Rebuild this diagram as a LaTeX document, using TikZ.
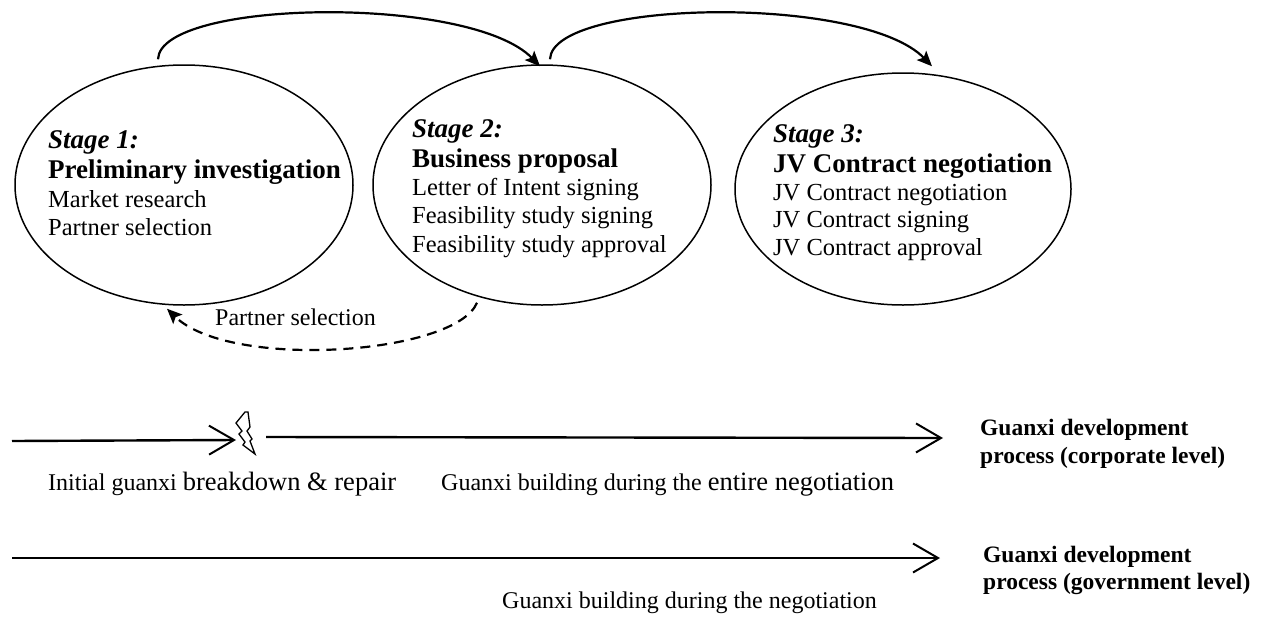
\documentclass[tikz,border=0pt]{standalone}
\usepackage{fontspec}
\setmainfont{Liberation Serif}
\usetikzlibrary{shapes.geometric,arrows.meta,calc}

\tikzset{
  stage/.style={ellipse, draw, line width=1.5pt, inner sep=0pt},
  stagehead/.style={anchor=base west, inner sep=0pt, font=\fontsize{27}{30}\selectfont\bfseries},
  stagebody/.style={anchor=base west, inner sep=0pt, font=\fontsize{24.5}{28}\selectfont},
  plain/.style={anchor=base west, inner sep=0pt, font=\fontsize{24}{28}\selectfont},
  level/.style={anchor=base west, inner sep=0pt, font=\fontsize{23.5}{28}\selectfont\bfseries},
  flow/.style={line width=2.2pt, -{Stealth[length=15pt,width=13pt,inset=3pt]}},
  back/.style={line width=2.2pt, dash pattern=on 10pt off 7pt, -{Stealth[length=15pt,width=13pt,inset=3pt]}},
  track/.style={line width=2.4pt, -{Straight Barb[length=25pt,width=29pt,line width=2pt]}},
}

\begin{document}
\begin{tikzpicture}[x=1pt, y=-1pt]
\useasboundingbox (0,0) rectangle (1269,616);

% the three negotiation stages
\node[stage, minimum width=338pt, minimum height=240pt] (s1) at (184,185) {};
\node[stage, minimum width=338pt, minimum height=240pt] (s2) at (542,185) {};
\node[stage, minimum width=336pt, minimum height=232pt] (s3) at (903,189) {};

% stage 1 text
\node[stagehead] (s1a) at (48,148) {\itshape Stage 1:};
\node[stagehead] (s1b) at (48,178) {Preliminary investigation};
\node[stagebody] (s1c) at (48,207) {Market research};
\node[stagebody] (s1d) at (48,235) {Partner selection};

% stage 2 text
\node[stagehead] (s2a) at (412,137) {\itshape Stage 2:};
\node[stagehead] (s2b) at (412,167) {Business proposal};
\node[stagebody] (s2c) at (412,195) {Letter of Intent signing};
\node[stagebody] (s2d) at (412,223) {Feasibility study signing};
\node[stagebody] (s2e) at (412,252) {Feasibility study approval};

% stage 3 text
\node[stagehead] (s3a) at (773,142) {\itshape Stage 3:};
\node[stagehead] (s3b) at (773,172) {JV Contract negotiation};
\node[stagebody] (s3c) at (773,200) {JV Contract negotiation};
\node[stagebody] (s3d) at (773,227) {JV Contract signing};
\node[stagebody] (s3e) at (773,255) {JV Contract approval};

% forward links between stages
\draw[flow] ($(s1.north)+(-26,-5)$) .. controls ($(s1.north)+(-24,-65)$) and ($(s2.north)+(-72,-70)$) .. ($(s2.north)+(-2,2)$);
\draw[flow] ($(s2.north)+(8,-5)$) .. controls ($(s2.north)+(10,-65)$) and ($(s3.north)+(-41,-78)$) .. ($(s3.north)+(29,-6)$);

% loop back for partner selection
\draw[back] ($(s2.south)+(-65,-3)$) .. controls (455,355) and (230,370) .. ($(s1.south)+(-17,3)$);
\node[plain] (ps) at (215,325) {Partner selection};

% corporate level guanxi track
\coordinate (c0) at (12,441);
\coordinate (bolt) at (245,432);
\draw[track] (c0) -- ($(bolt)+(-9,8)$);
\draw[line width=1.3pt, line join=miter]
  ($(bolt)+(0,-20)$) -- ($(bolt)+(-9,-9)$) -- ($(bolt)+(-3,-1)$) -- ($(bolt)+(-6,2)$)
  -- ($(bolt)+(0,10)$) -- ($(bolt)+(-2,13)$) -- ($(bolt)+(10,22)$) -- ($(bolt)+(5,9)$)
  -- ($(bolt)+(7,7)$) -- ($(bolt)+(2,-1)$) -- ($(bolt)+(5,-5)$) -- ($(bolt)+(3,-20)$) -- cycle;
\coordinate (c1) at (266,437);
\coordinate (c2) at (943,438);
\draw[track] (c1) -- (c2);
\node[level] (corp1) at (980,435) {Guanxi development};
\node[level] (corp2) at (980,463) {process (corporate level)};
\node[plain] (brk) at (48,490) {Initial guanxi \fontsize{26.5}{28}\selectfont breakdown \& repair};
\node[plain] (ent) at (441,490) {Guanxi building during the \fontsize{26.5}{28}\selectfont entire negotiation};

% government level guanxi track
\coordinate (g0) at (12,558);
\coordinate (g1) at (940,558);
\draw[track] (g0) -- (g1);
\node[level] (gov1) at (983,562) {Guanxi development};
\node[level] (gov2) at (983,589) {process (government level)};
\node[plain] (neg) at (502,608) {Guanxi building during the negotiation};
\end{tikzpicture}
\end{document}
